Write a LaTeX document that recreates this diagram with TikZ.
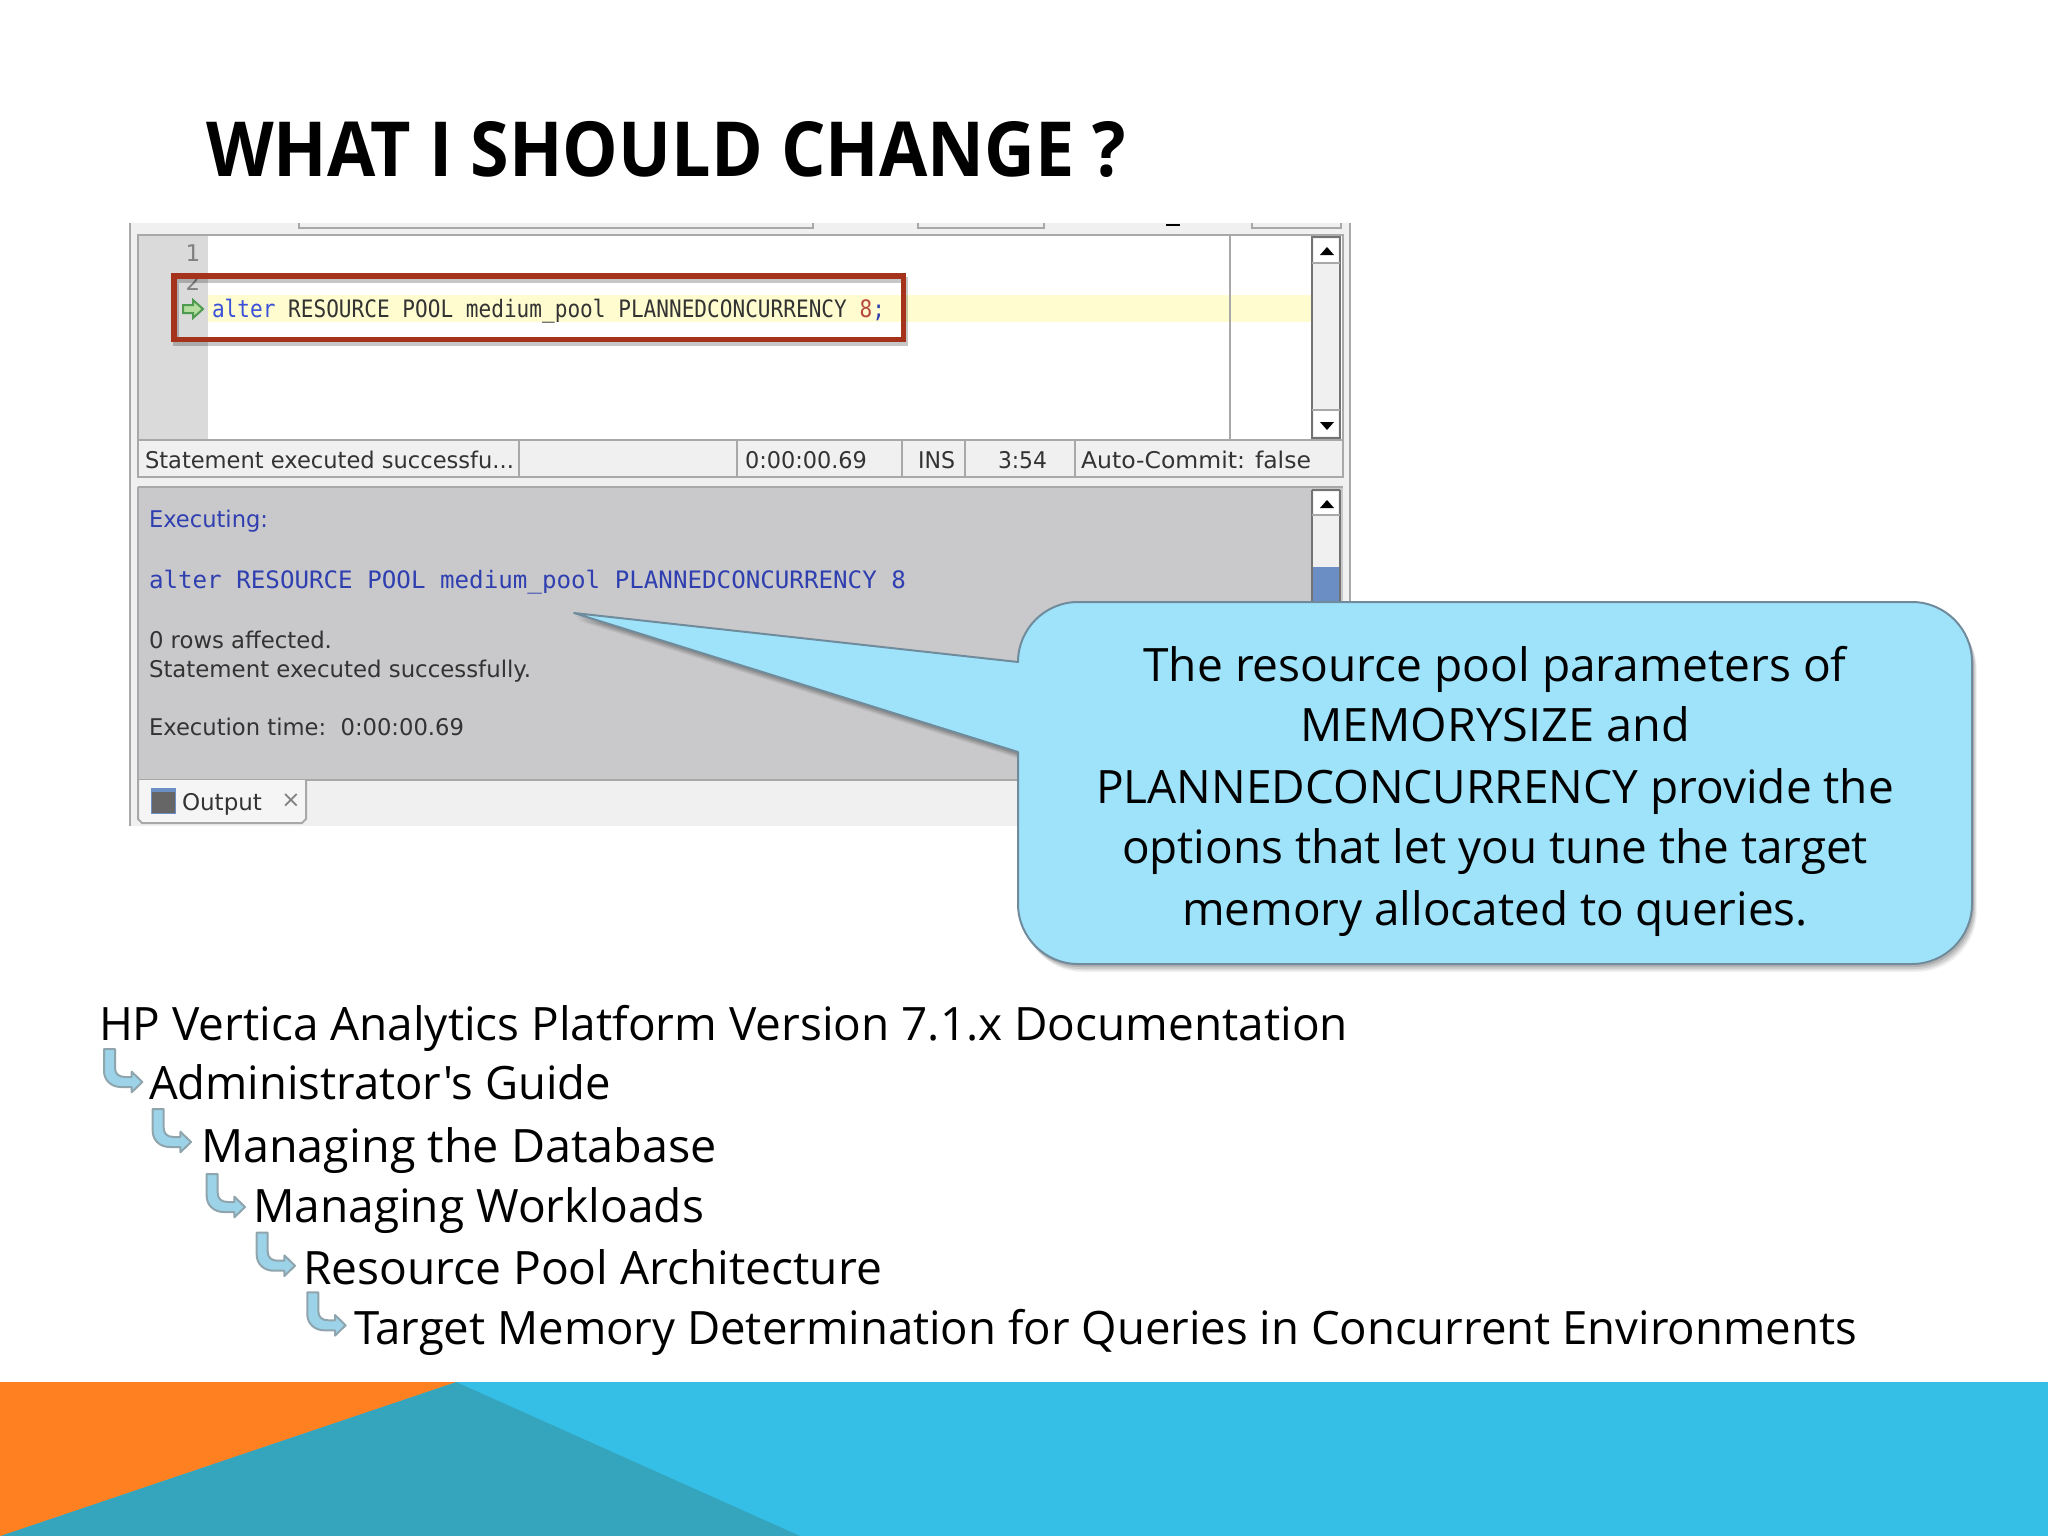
\documentclass[tikz,border=0pt]{standalone}
\usepackage{fontspec}
\usepackage{graphicx}
\usepackage{xfp}
\newfontfamily\bodyf{Open Sans}
\newfontfamily\titlef{Open Sans}
\newfontfamily\screenf{DejaVu Sans}
\newfontfamily\monof{DejaVu Sans Mono}
\newlength\fitlen
\newcommand{\fitx}[2]{\settowidth{\fitlen}{#2}\scalebox{\fpeval{(#1pt)/\fitlen}}[1]{#2}}
\definecolor{panel}{HTML}{F0F0F0}
\definecolor{gutter}{HTML}{DADADA}
\definecolor{lowgrey}{HTML}{C9C9CB}
\definecolor{edge}{HTML}{A8A8A8}
\definecolor{hilite}{HTML}{FFFDCF}
\definecolor{redbox}{HTML}{A5321B}
\definecolor{kwblue}{HTML}{3A50D8}
\definecolor{outblue}{HTML}{2F3FB0}
\definecolor{numred}{HTML}{B5483F}
\definecolor{scrtext}{HTML}{333333}
\definecolor{callfill}{HTML}{9FE3FB}
\definecolor{callline}{HTML}{708C9C}
\definecolor{arrfill}{HTML}{9DD3E8}
\definecolor{arrline}{HTML}{8FA5AE}
\definecolor{bandblue}{HTML}{35BEE6}
\definecolor{bandorange}{HTML}{FE8020}
\definecolor{bandteal}{HTML}{35A4BD}
\definecolor{thumb}{HTML}{6B8FC4}
\definecolor{arrowgreen}{HTML}{4E9A4E}
\definecolor{arrowlight}{HTML}{B5DDA0}
\tikzset{
  txt/.style={inner sep=0pt,outer sep=0pt,anchor=base west},
  scr/.style={txt,font=\screenf\fontsize{23}{23}\selectfont,text=scrtext},
  mono/.style={txt,font=\monof\fontsize{24}{24}\selectfont,text=scrtext},
  body/.style={txt,font=\bodyf\fontsize{46}{46}\selectfont,text=black},
  calltxt/.style={inner sep=0pt,outer sep=0pt,anchor=base,font=\bodyf\fontsize{46}{46}\selectfont,text=black},
  pane/.style={draw=edge,line width=2pt},
  thin line/.style={draw=edge,line width=1.6pt},
  bent/.style={fill=arrfill,draw=arrline,line width=2pt,line join=round},
  bentpic/.pic={\path[bent] (0,0) -- (11,0) -- (11,19) .. controls (11,25) and (15,28) .. (21,28) -- (27.7,28) -- (27.7,22.7) -- (38.3,33) -- (27.7,43.3) -- (27.7,38) -- (17,38) .. controls (7,38) and (0,31) .. (0,22) -- cycle;},
}
\def\mycallout{(1078,602) -- (1912,602) .. controls (1945,602) and (1972,629) .. (1972,662) -- (1972,904) .. controls (1972,937) and (1945,964) .. (1912,964) -- (1078,964) .. controls (1045,964) and (1018,937) .. (1018,904) -- (1018,752) -- (574,613) -- (1018,662) .. controls (1018,629) and (1045,602) .. (1078,602) -- cycle}
\begin{document}
\begin{tikzpicture}[x=1pt,y=-1pt]
\useasboundingbox (0,0) rectangle (2048,1536);
\fill[white] (0,0) rectangle (2048,1536);
% bottom band
\fill[bandblue] (0,1382) rectangle (2048,1536);
\fill[bandteal] (0,1536) -- (456,1382) -- (800,1536) -- cycle;
\fill[bandorange] (0,1382) -- (456,1382) -- (0,1536) -- cycle;
% title
\node[txt,font=\titlef\bfseries\fontsize{76}{76}\selectfont] (title) at (206,176) {\fitx{920}{WHAT I SHOULD CHANGE ?}};
% screenshot frame
\fill[panel] (130,223) rectangle (1350,826);
\draw[edge,line width=1.5pt] (130,223) -- (130,826);
\draw[edge,line width=1.5pt] (1350,223) -- (1350,605);
% top strip
\draw[thin line] (299,223) -- (299,228) -- (813,228) -- (813,223);
\draw[thin line] (918,223) -- (918,228) -- (1044,228) -- (1044,223);
\draw[thin line] (1252,223) -- (1252,228) -- (1341,228) -- (1341,223);
\draw[black,line width=2pt] (1166,224.5) -- (1180,224.5);
% editor
\fill[white] (138,235) rectangle (1343,440);
\fill[gutter] (138,235) rectangle (208,440);
\fill[hilite] (208,295) rectangle (1311,322);
\draw[thin line] (1230,235) -- (1230,440);
\draw[pane] (138,235) rectangle (1343,440);
\node[scr,anchor=center,text=gray] (n1) at (193,253) {1};
\node[scr,anchor=center,text=gray] (n2) at (193,282) {2};
\path[fill=arrowlight,draw=arrowgreen,line width=2pt,line join=miter] (183,305) -- (193,305) -- (193,300) -- (203,309) -- (193,318) -- (193,313) -- (183,313) -- cycle;
\node[mono] (code) at (212,317) {\fitx{673}{\textcolor{kwblue}{alter} RESOURCE POOL medium\_pool PLANNEDCONCURRENCY \textcolor{numred}{8}\textcolor{outblue}{;}}};
% editor scrollbar
\fill[panel] (1312,237) rectangle (1340,438);
\draw[black!55,line width=1.6pt] (1312,237) rectangle (1340,438);
\draw[thin line] (1312,263) -- (1340,263);
\draw[thin line] (1312,410) -- (1340,410);
\fill[white] (1314,239) rectangle (1338,262);
\fill[white] (1314,411) rectangle (1338,436);
\fill[black] (1320,255) -- (1334,255) -- (1327,247) -- cycle;
\fill[black] (1320,422) -- (1334,422) -- (1327,430) -- cycle;
% red box
\draw[black,opacity=.22,line width=6pt] (176,280) rectangle (905,343);
\draw[redbox,line width=5.5pt] (174,276) rectangle (903.5,339.5);
% status bar
\fill[panel] (138,440) rectangle (1343,477);
\draw[thin line] (138,440) rectangle (1343,477);
\foreach \sx in {519,737,902,965,1075} \draw[thin line] (\sx,440) -- (\sx,477);
\node[scr] (st1) at (145,468) {\fitx{369}{Statement executed successfu...}};
\node[scr] (st2) at (745,468) {\fitx{122}{0:00:00.69}};
\node[scr] (st3) at (918,468) {\fitx{37}{INS}};
\node[scr] (st4) at (998,468) {\fitx{49}{3:54}};
\node[scr] (st5) at (1081,468) {\fitx{230}{Auto-Commit: false}};
% output panel
\fill[lowgrey] (138,487) rectangle (1343,780);
\draw[pane] (138,487) -- (1343,487);
\draw[pane] (138,487) -- (138,780) -- (1343,780);
\fill[panel] (1312,490) rectangle (1340,610);
\fill[white] (1314,492) rectangle (1338,514);
\fill[panel] (1314,516) rectangle (1338,566);
\fill[thumb] (1312,567) rectangle (1340,610);
\draw[black!55,line width=1.6pt] (1312,490) -- (1312,610);
\draw[black!55,line width=1.6pt] (1340,490) -- (1340,610);
\draw[black!55,line width=1.6pt] (1312,490) -- (1340,490);
\draw[thin line] (1312,515) -- (1340,515);
\fill[black] (1320,508) -- (1334,508) -- (1327,500) -- cycle;
\node[scr,text=outblue] (ex) at (149,527) {\fitx{119}{Executing:}};
\node[mono,text=outblue] (alt) at (149,588) {\fitx{757}{alter RESOURCE POOL medium\_pool PLANNEDCONCURRENCY 8}};
\node[scr] (rows) at (149,648) {\fitx{183}{0 rows affected.}};
\node[scr] (stm) at (149,677) {\fitx{382}{Statement executed successfully.}};
\node[scr] (etime) at (149,735) {\fitx{315}{Execution time:\ \ 0:00:00.69}};
% output tab
\fill[white!96!black] (138,780) -- (138,819) -- (142,823) -- (302,823) -- (306,819) -- (306,780) -- cycle;
\draw[edge,line width=2pt] (138,780) -- (138,819) -- (142,823) -- (302,823) -- (306,819) -- (306,780);
\fill[black!60] (151,788) rectangle (175,813);
\fill[thumb] (151,788) rectangle (175,792);
\draw[thumb,line width=1pt] (151,788) rectangle (175,813);
\node[scr] (otab) at (182,810) {\fitx{80}{Output}};
\node[scr,anchor=center,text=gray] (oclose) at (291,801) {×};
% callout
\foreach \d/\o in {8/.05,6.5/.07,5/.09,3/.12}{
  \fill[black,opacity=\o,xshift=\d*0.6pt,yshift=-\d pt] \mycallout;
}
\path[fill=callfill,draw=callline,line width=2pt,line join=round] \mycallout;
\node[calltxt] (c1) at (1495,681) {\fitx{703}{The resource pool parameters of}};
\node[calltxt] (c2) at (1495,741) {\fitx{390}{MEMORYSIZE and}};
\node[calltxt] (c3) at (1495,803) {\fitx{798}{PLANNEDCONCURRENCY provide the}};
\node[calltxt] (c4) at (1495,863) {\fitx{746}{options that let you tune the target}};
\node[calltxt] (c5) at (1495,925) {\fitx{626}{memory allocated to queries.}};
% breadcrumb
\node[body] (b0) at (99,1040) {\fitx{1249}{HP Vertica Analytics Platform Version 7.1.x Documentation}};
\node[body] (b1) at (149,1099) {\fitx{462}{Administrator's Guide}};
\node[body] (b2) at (201,1162) {\fitx{516}{Managing the Database}};
\node[body] (b3) at (253,1222) {\fitx{451}{Managing Workloads}};
\node[body] (b4) at (303,1284) {\fitx{579}{Resource Pool Architecture}};
\node[body] (b5) at (354,1344) {\fitx{1503}{Target Memory Determination for Queries in Concurrent Environments}};
\pic at (104,1049) {bentpic};
\pic at (152.7,1109) {bentpic};
\pic at (206.7,1174) {bentpic};
\pic at (256.7,1232.7) {bentpic};
\pic at (307.3,1292.3) {bentpic};
\end{tikzpicture}
\end{document}
